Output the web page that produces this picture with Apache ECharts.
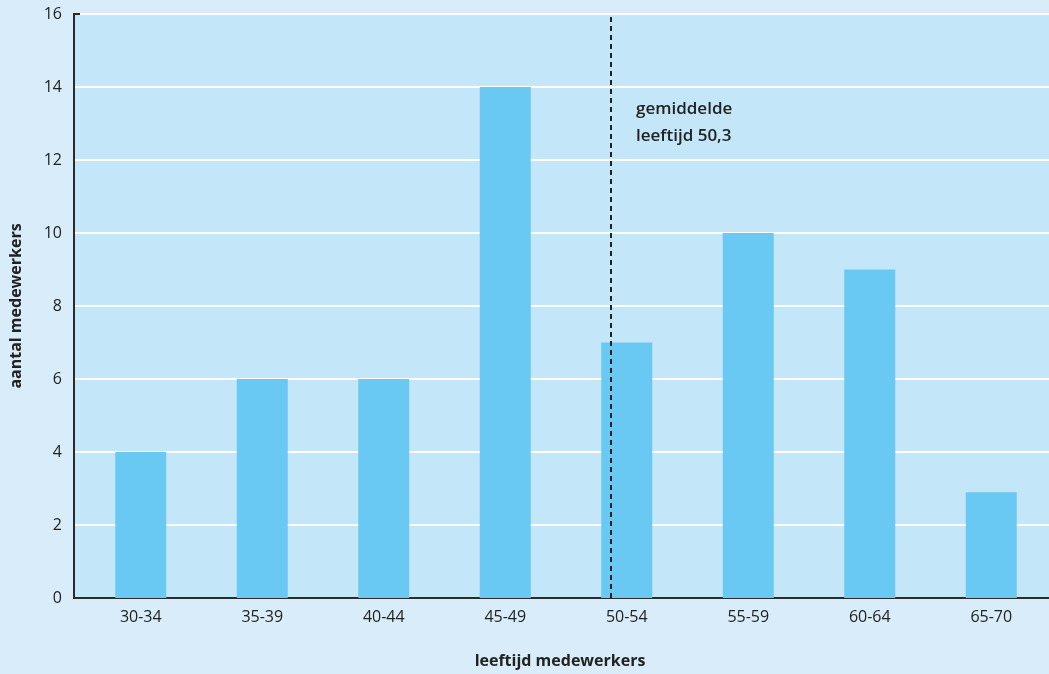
<!DOCTYPE html>
<html>
<head>
<meta charset="utf-8">
<script src="https://cdn.jsdelivr.net/npm/echarts@6/dist/echarts.min.js"></script>
<style>
  html, body { margin: 0; padding: 0; background: #d8edf9; }
  #main { width: 1049px; height: 674px; }
</style>
</head>
<body>
<div id="main"></div>
<script>
const categories = ['30-34', '35-39', '40-44', '45-49', '50-54', '55-59', '60-64', '65-70'];
const medewerkers = [4, 6, 6, 14, 7, 10, 9, 2.9];
const yTicks = [0, 2, 4, 6, 8, 10, 12, 14, 16];
// mean age position, in category-band units (0..8) on the hidden axis
const meanPos = [4.37];
const meanLabel = 'gemiddelde\nleeftijd 50,3';

const font = '"Open Sans", "Noto Sans", sans-serif';
const chart = echarts.init(document.getElementById('main'));

chart.setOption({
  backgroundColor: '#d8edf9',
  textStyle: { fontFamily: font },
  grid: {
    left: 80, right: -3, top: 14, bottom: 76,
    outerBoundsMode: 'none',
    containLabel: false,
    show: false
  },
  xAxis: [{
    type: 'category',
    data: categories,
    axisLine: { lineStyle: { color: '#2b2b2b', width: 2 } },
    axisTick: { show: false },
    axisLabel: { color: '#222', fontSize: 16, margin: 11, fontFamily: font },
    name: 'leeftijd medewerkers',
    nameLocation: 'middle',
    nameGap: 55,
    nameTextStyle: { color: '#222', fontSize: 16, fontWeight: 'bold', fontFamily: font, padding: [0, 0, 0, -12] }
  }, {
    type: 'value',
    position: 'top',
    min: 0, max: 8,
    show: false
  }],
  yAxis: {
    type: 'value',
    min: yTicks[0], max: yTicks[yTicks.length - 1], interval: 2,
    offset: 6,
    axisLine: { show: true, onZero: false, lineStyle: { color: '#2b2b2b', width: 2 } },
    axisTick: { show: false },
    axisLabel: { color: '#222', fontSize: 16, margin: 12, fontFamily: font },
    splitLine: { lineStyle: { color: '#ffffff', width: 2 } },
    name: 'aantal medewerkers',
    nameLocation: 'middle',
    nameGap: 50,
    nameTextStyle: { color: '#222', fontSize: 16, fontWeight: 'bold', fontFamily: font }
  },
  series: [{
    type: 'bar',
    data: medewerkers,
    barWidth: 51,
    itemStyle: { color: '#6ac9f2' },
    z: 2
  }, {
    type: 'line',
    xAxisIndex: 1,
    data: [],
    z: 5,
    markLine: {
      silent: true,
      symbol: 'none',
      lineStyle: { color: '#222', type: [5, 4], width: 2 },
      label: { show: false },
      data: meanPos.map(v => ({ xAxis: v }))
    }
  }],
  graphic: [{
    // plot-area background, reaching the y axis line
    type: 'rect',
    z: -10,
    silent: true,
    shape: { x: 74, y: 14, width: 975, height: 584 },
    style: { fill: '#c3e6f8' }
  }, {
    // white grid line stubs between axis line and band start
    type: 'group',
    z: -5,
    silent: true,
    children: yTicks.slice(1, -1).map(t => ({
      type: 'line',
      shape: { x1: 74, y1: 598 - t * 36.5, x2: 81, y2: 598 - t * 36.5 },
      style: { stroke: '#ffffff', lineWidth: 2 }
    }))
  }, {
    // bottom and top border segments left of the band start
    type: 'line',
    silent: true,
    shape: { x1: 73, y1: 598, x2: 81, y2: 598 },
    style: { stroke: '#2b2b2b', lineWidth: 2 }
  }, {
    type: 'line',
    silent: true,
    shape: { x1: 73, y1: 14, x2: 1049, y2: 14 },
    style: { stroke: '#2b2b2b', lineWidth: 2 }
  }, {
    type: 'text',
    left: 636, top: 96,
    style: {
      text: meanLabel,
      fill: '#222',
      font: '600 17px ' + font,
      lineHeight: 27
    }
  }]
});
</script>
</body>
</html>
